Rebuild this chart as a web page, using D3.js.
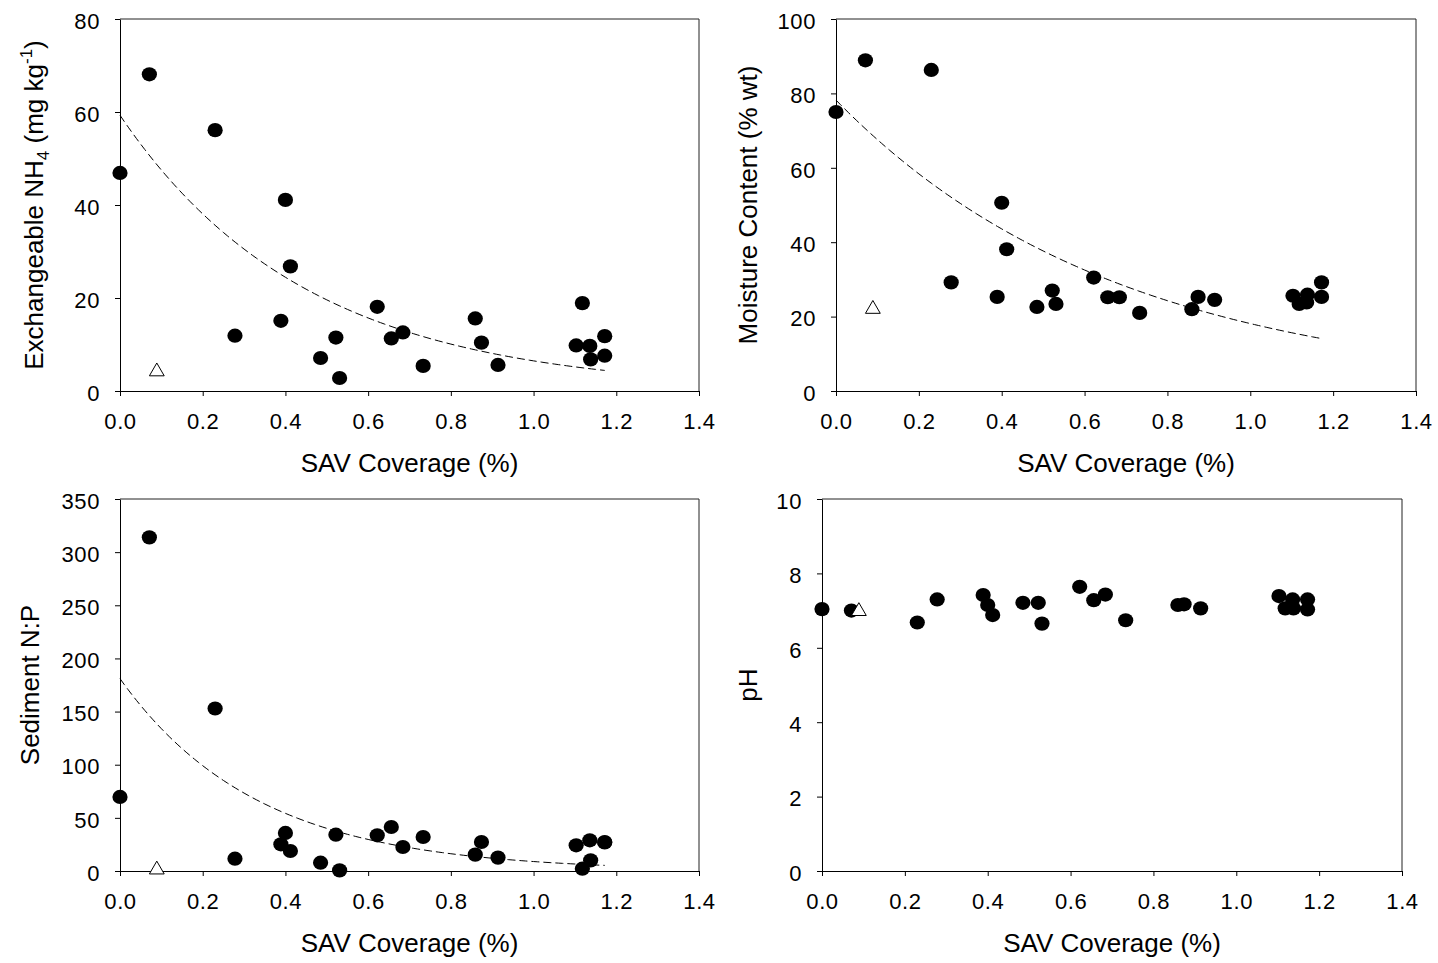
<!DOCTYPE html>
<html>
<head>
<meta charset="utf-8">
<script src="https://cdn.jsdelivr.net/npm/d3@7"></script>
<style>
body { margin: 0; background: #fff; }
text { font-family: "Liberation Sans", Arial, sans-serif; }
</style>
</head>
<body>
<div id="chart"></div>
<script>

// SAV coverage for each site (shared by all four panels)
var sav = [0.000, 0.071, 0.230, 0.278, 0.389, 0.400, 0.412, 0.485, 0.522, 0.531, 0.622, 0.656,
           0.684, 0.733, 0.859, 0.874, 0.914, 1.103, 1.118, 1.136, 1.138, 1.172, 1.172];

var nh4      = [46.9, 68.1, 56.1, 11.9, 15.1, 41.1, 26.8, 7.1, 11.5, 2.8, 18.1, 11.3,
                12.6, 5.4, 15.6, 10.4, 5.6, 9.8, 18.9, 9.7, 6.8, 11.8, 7.6];
var moisture = [75.0, 88.9, 86.3, 29.2, 25.3, 50.6, 38.1, 22.6, 27.0, 23.4, 30.5, 25.2,
                25.2, 21.0, 22.0, 25.3, 24.5, 25.6, 23.4, 23.8, 25.9, 25.3, 29.2];
var np       = [69.7, 313.9, 152.9, 11.6, 25.1, 35.8, 18.8, 7.8, 34.2, 0.6, 33.6, 41.4,
                22.6, 32.0, 15.4, 27.3, 12.6, 24.2, 2.2, 28.9, 10.0, 27.3, 26.8];
var ph       = [7.04, 7.00, 6.68, 7.30, 7.42, 7.15, 6.88, 7.21, 7.21, 6.65, 7.64, 7.28,
                7.43, 6.74, 7.15, 7.17, 7.06, 7.39, 7.06, 7.30, 7.06, 7.30, 7.03];

// reference site (open triangle)
var refSav = 0.089;
var refValues = [4.4, 22.3, 2.2, 7.01];

// exponential fits y = a * exp(-b * x), drawn over the sampled range
var nh4Fit = [59.3, 2.214],
    moistFit = [78.2, 1.462],
    npFit = [181.0, 3.013];
var fitRange = [0, 1.172];

var xTicks = [0, 0.2, 0.4, 0.6, 0.8, 1.0, 1.2, 1.4];

var width = 1438,
    height = 963;

var svg = d3.select("#chart").append("svg")
    .attr("width", width)
    .attr("height", height);

var panels = [
  {values: nh4, ref: refValues[0], fit: nh4Fit, ymax: 80, yticks: [0, 20, 40, 60, 80],
   left: 120, right: 699, top: 19, bottom: 391, titleX: 43, title: "nh4"},
  {values: moisture, ref: refValues[1], fit: moistFit, ymax: 100, yticks: [0, 20, 40, 60, 80, 100],
   left: 836, right: 1416, top: 19, bottom: 391, titleX: 757, title: "Moisture Content (% wt)"},
  {values: np, ref: refValues[2], fit: npFit, ymax: 350, yticks: [0, 50, 100, 150, 200, 250, 300, 350],
   left: 120, right: 699, top: 499, bottom: 871, titleX: 39, title: "Sediment N:P"},
  {values: ph, ref: refValues[3], fit: null, ymax: 10, yticks: [0, 2, 4, 6, 8, 10],
   left: 822, right: 1402, top: 499, bottom: 871, titleX: 757, title: "pH"}
];

panels.forEach(function(p){

  var x = d3.scaleLinear().domain([0, 1.4]).range([p.left, p.right]);
  var y = d3.scaleLinear().domain([0, p.ymax]).range([p.bottom, p.top]);

  var g = svg.append("g").attr("class", "panel");

  // frame (top + right)
  g.append("path")
    .attr("d", "M" + p.left + "," + p.top + "H" + p.right + "V" + p.bottom)
    .attr("fill", "none")
    .attr("stroke", "#222")
    .attr("stroke-width", 1);

  var xAxis = g.append("g")
    .attr("transform", "translate(0," + p.bottom + ")")
    .call(d3.axisBottom(x).tickValues(xTicks).tickFormat(d3.format(".1f"))
          .tickSize(5).tickPadding(17).tickSizeOuter(0));

  var yAxis = g.append("g")
    .attr("transform", "translate(" + p.left + ",0)")
    .call(d3.axisLeft(y).tickValues(p.yticks).tickSize(5).tickPadding(15).tickSizeOuter(0));
  yAxis.selectAll(".tick text").attr("dy", "0.42em");

  [xAxis, yAxis].forEach(function(a){
    a.select(".domain").attr("stroke", "#000");
    a.selectAll(".tick line").attr("stroke", "#000");
    a.selectAll("text")
      .attr("fill", "#000")
      .style("font-size", "22px")
      .style("letter-spacing", "0.6px")
      .style("font-family", "'Liberation Sans', Arial, sans-serif");
  });

  // x title
  g.append("text")
    .attr("x", (p.left + p.right) / 2)
    .attr("y", p.bottom + 81)
    .attr("text-anchor", "middle")
    .style("font-size", "26px")
    .text("SAV Coverage (%)");

  // y title
  var yt = g.append("text")
    .attr("transform", "translate(" + p.titleX + "," + (p.top + p.bottom) / 2 + ")rotate(-90)")
    .attr("text-anchor", "middle")
    .style("font-size", "26px");
  if (p.title == "nh4") {
    yt.append("tspan").text("Exchangeable NH");
    yt.append("tspan").attr("dy", 6).style("font-size", "17px").text("4");
    yt.append("tspan").attr("dy", -6).text(" (mg kg");
    yt.append("tspan").attr("dy", -11).style("font-size", "17px").text("-1");
    yt.append("tspan").attr("dy", 11).text(")");
  } else {
    yt.text(p.title);
  }

  // fitted curve
  if (p.fit) {
    var fit = p.fit;
    var line = d3.line()
      .x(function(d){ return x(d); })
      .y(function(d){ return y(fit[0] * Math.exp(-fit[1] * d)); });
    g.append("path")
      .datum(d3.range(fitRange[0], fitRange[1], 0.01).concat([fitRange[1]]))
      .attr("d", line)
      .attr("fill", "none")
      .attr("stroke", "#000")
      .attr("stroke-width", 1)
      .attr("stroke-dasharray", "8,4");
  }

  // sites
  g.selectAll(".site")
    .data(p.values)
    .enter().append("ellipse")
    .attr("class", "site")
    .attr("cx", function(d, i){ return x(sav[i]); })
    .attr("cy", function(d){ return y(d); })
    .attr("rx", 7.6)
    .attr("ry", 7.1)
    .attr("fill", "#000");

  // reference site
  var tx = x(refSav), ty = y(p.ref);
  g.append("path")
    .attr("d", d3.symbol().type(d3.symbolTriangle).size(95)())
    .attr("transform", "translate(" + tx + "," + (ty + 1) + ")")
    .attr("fill", "#fff")
    .attr("stroke", "#000")
    .attr("stroke-width", 1);
});

</script>
</body>
</html>
